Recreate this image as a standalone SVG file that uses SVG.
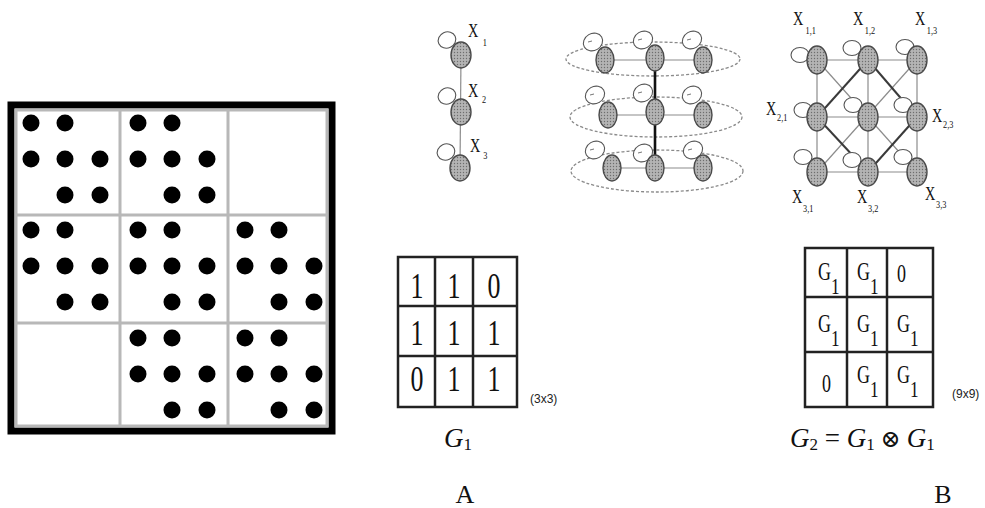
<svg xmlns="http://www.w3.org/2000/svg" xmlns:xlink="http://www.w3.org/1999/xlink" width="985" height="508" viewBox="0 0 985 508">
<style>
.dot{fill:#000}
.gl{stroke:#b8b8b8;stroke-width:3;fill:none}
.node{fill:url(#stip);stroke:#4a4a4a;stroke-width:1.4}
.loop{fill:#fff;stroke:#555;stroke-width:1.1}
.tick{stroke:#666;stroke-width:0.9}
.edge{stroke:#8c8c8c;stroke-width:1.2;fill:none}
.thick{stroke:#3a3a3a;stroke-width:2;fill:none}
.ring{fill:none;stroke:#8a8a8a;stroke-width:1.3;stroke-dasharray:3 2}
.mat{fill:none;stroke:#222;stroke-width:2.5}
.serif{font-family:"Liberation Serif","DejaVu Serif",serif;fill:#111}
.sans{font-family:"Liberation Sans","DejaVu Sans",sans-serif;fill:#222}
</style>
<defs>
<pattern id="stip" width="3" height="3" patternUnits="userSpaceOnUse">
<rect width="3" height="3" fill="#b4b4b4"/>
<circle cx="1.5" cy="1.5" r="0.7" fill="#6e6e6e"/>
</pattern>
<g id="blk">
<circle class="dot" cx="0" cy="0" r="8.5"/>
<circle class="dot" cx="34" cy="0" r="8.5"/>
<circle class="dot" cx="0" cy="36" r="8.5"/>
<circle class="dot" cx="34" cy="36" r="8.5"/>
<circle class="dot" cx="69" cy="36" r="8.5"/>
<circle class="dot" cx="34" cy="72" r="8.5"/>
<circle class="dot" cx="69" cy="72" r="8.5"/>
</g>
</defs>
<rect width="985" height="508" fill="#fff"/>

<!-- Left block matrix -->
<g id="blockmatrix">
<rect x="11" y="105" width="321" height="326" fill="#fff" stroke="#000" stroke-width="7"/>
<rect class="gl" x="16" y="110" width="311" height="316" stroke-width="2"/>
<line class="gl" x1="120" y1="110" x2="120" y2="426"/>
<line class="gl" x1="228" y1="110" x2="228" y2="426" stroke-width="4" stroke="#c8c8c8"/>
<line class="gl" x1="16" y1="215" x2="327" y2="215"/>
<line class="gl" x1="16" y1="323" x2="327" y2="323"/>
<use xlink:href="#blk" href="#blk" x="31" y="123"/>
<use xlink:href="#blk" href="#blk" x="138" y="123"/>
<use xlink:href="#blk" href="#blk" x="31" y="230"/>
<use xlink:href="#blk" href="#blk" x="138" y="230"/>
<use xlink:href="#blk" href="#blk" x="245" y="230"/>
<use xlink:href="#blk" href="#blk" x="138" y="338"/>
<use xlink:href="#blk" href="#blk" x="245" y="338"/>
</g>

<!-- Connectors -->
<g id="connectors">
<!-- chain graph -->
<line class="edge" x1="461" y1="55" x2="460" y2="168" stroke="#666"/>
<!-- layered graph -->
<ellipse class="ring" cx="653" cy="59" rx="87" ry="17"/>
<ellipse class="ring" cx="656" cy="117" rx="86" ry="20"/>
<ellipse class="ring" cx="657" cy="171" rx="86" ry="21"/>
<line class="edge" x1="605" y1="60" x2="703" y2="60"/>
<line class="edge" x1="608" y1="115" x2="703" y2="115"/>
<line class="edge" x1="612" y1="168" x2="703" y2="168"/>
<line x1="655" y1="58" x2="655" y2="168" stroke="#111" stroke-width="2.6"/>
<!-- grid graph -->
<line class="edge" x1="817" y1="60" x2="917" y2="60"/>
<line class="edge" x1="817" y1="117" x2="917" y2="117"/>
<line class="edge" x1="817" y1="172" x2="917" y2="172"/>
<line class="edge" x1="817" y1="60" x2="817" y2="172"/>
<line class="edge" x1="868" y1="60" x2="868" y2="172"/>
<line class="edge" x1="917" y1="60" x2="917" y2="172"/>
<line class="edge" x1="817" y1="60" x2="917" y2="172"/>
<line class="edge" x1="917" y1="60" x2="817" y2="172"/>
<line class="thick" x1="868" y1="60" x2="817" y2="117"/>
<line class="thick" x1="868" y1="60" x2="917" y2="117"/>
<line class="thick" x1="817" y1="117" x2="868" y2="172"/>
<line class="thick" x1="917" y1="117" x2="868" y2="172"/>
</g>

<!-- chain graph nodes -->
<g id="a-x1"><ellipse class="loop" cx="447" cy="40" rx="9" ry="8" transform="rotate(-25 447 40)"/><ellipse class="node" cx="461" cy="55" rx="10" ry="13"/></g>
<g id="a-x2"><ellipse class="loop" cx="447" cy="96" rx="9" ry="8" transform="rotate(-25 447 96)"/><ellipse class="node" cx="461" cy="112" rx="10" ry="13"/></g>
<g id="a-x3"><ellipse class="loop" cx="446" cy="152" rx="9" ry="8" transform="rotate(-25 446 152)"/><ellipse class="node" cx="460" cy="168" rx="10" ry="13"/></g>
<g id="a-labels" class="serif">
<text transform="translate(468,37) scale(0.75,1)" font-size="19">X<tspan font-size="11" dx="6" dy="9">1</tspan></text>
<text transform="translate(468,97) scale(0.75,1)" font-size="19">X<tspan font-size="11" dx="5" dy="6">2</tspan></text>
<text transform="translate(470,152) scale(0.75,1)" font-size="19">X<tspan font-size="11" dx="4" dy="7">3</tspan></text>
</g>

<!-- layered graph nodes -->
<g id="m-11"><ellipse class="loop" cx="593" cy="42" rx="10" ry="8.5" transform="rotate(-30 593 42)"/><line class="tick" x1="588" y1="42" x2="592" y2="41"/><ellipse class="node" cx="605" cy="60" rx="9" ry="13"/></g>
<g id="m-12"><ellipse class="loop" cx="643" cy="40" rx="10" ry="8.5" transform="rotate(-30 643 40)"/><line class="tick" x1="638" y1="40" x2="642" y2="39"/><ellipse class="node" cx="655" cy="58" rx="9" ry="13"/></g>
<g id="m-13"><ellipse class="loop" cx="692" cy="40" rx="10" ry="8.5" transform="rotate(-30 692 40)"/><line class="tick" x1="687" y1="40" x2="691" y2="39"/><ellipse class="node" cx="703" cy="60" rx="9" ry="13"/></g>
<g id="m-21"><ellipse class="loop" cx="595" cy="95" rx="10" ry="8.5" transform="rotate(-30 595 95)"/><line class="tick" x1="590" y1="95" x2="594" y2="94"/><ellipse class="node" cx="608" cy="115" rx="9" ry="13"/></g>
<g id="m-22"><ellipse class="loop" cx="643" cy="93" rx="10" ry="8.5" transform="rotate(-30 643 93)"/><line class="tick" x1="638" y1="93" x2="642" y2="92"/><ellipse class="node" cx="655" cy="112" rx="9" ry="13"/></g>
<g id="m-23"><ellipse class="loop" cx="692" cy="95" rx="10" ry="8.5" transform="rotate(-30 692 95)"/><line class="tick" x1="687" y1="95" x2="691" y2="94"/><ellipse class="node" cx="703" cy="115" rx="9" ry="13"/></g>
<g id="m-31"><ellipse class="loop" cx="595" cy="150" rx="10" ry="8.5" transform="rotate(-30 595 150)"/><line class="tick" x1="590" y1="150" x2="594" y2="149"/><ellipse class="node" cx="612" cy="168" rx="9" ry="13"/></g>
<g id="m-32"><ellipse class="loop" cx="643" cy="153" rx="10" ry="8.5" transform="rotate(-30 643 153)"/><line class="tick" x1="638" y1="153" x2="642" y2="152"/><ellipse class="node" cx="655" cy="168" rx="9" ry="13"/></g>
<g id="m-33"><ellipse class="loop" cx="693" cy="150" rx="10" ry="8.5" transform="rotate(-30 693 150)"/><line class="tick" x1="688" y1="150" x2="692" y2="149"/><ellipse class="node" cx="703" cy="168" rx="9" ry="13"/></g>

<!-- grid graph nodes -->
<g id="g-11"><ellipse class="loop" cx="800" cy="55" rx="9" ry="7.5"/><ellipse class="node" cx="817" cy="60" rx="10" ry="14"/></g>
<g id="g-12"><ellipse class="loop" cx="852" cy="48" rx="9" ry="7.5"/><ellipse class="node" cx="868" cy="60" rx="10" ry="14"/></g>
<g id="g-13"><ellipse class="loop" cx="905" cy="47" rx="9" ry="7.5"/><ellipse class="node" cx="917" cy="60" rx="10" ry="14"/></g>
<g id="g-21"><ellipse class="loop" cx="803" cy="110" rx="9" ry="7.5"/><ellipse class="node" cx="817" cy="117" rx="10" ry="14"/></g>
<g id="g-22"><ellipse class="loop" cx="853" cy="105" rx="9" ry="7.5"/><ellipse class="node" cx="868" cy="117" rx="10" ry="14"/></g>
<g id="g-23"><ellipse class="loop" cx="903" cy="105" rx="9" ry="7.5"/><ellipse class="node" cx="917" cy="117" rx="10" ry="14"/></g>
<g id="g-31"><ellipse class="loop" cx="803" cy="157" rx="9" ry="7.5"/><ellipse class="node" cx="817" cy="172" rx="10" ry="14"/></g>
<g id="g-32"><ellipse class="loop" cx="852" cy="160" rx="9" ry="7.5"/><ellipse class="node" cx="868" cy="172" rx="10" ry="14"/></g>
<g id="g-33"><ellipse class="loop" cx="903" cy="157" rx="9" ry="7.5"/><ellipse class="node" cx="917" cy="172" rx="10" ry="14"/></g>
<g id="g-labels" class="serif" font-size="19">
<text transform="translate(793,25) scale(0.75,1)">X<tspan font-size="11" dx="3" dy="9">1,1</tspan></text>
<text transform="translate(853,25) scale(0.75,1)">X<tspan font-size="11" dx="2" dy="9">1,2</tspan></text>
<text transform="translate(915,25) scale(0.75,1)">X<tspan font-size="11" dx="2" dy="9">1,3</tspan></text>
<text transform="translate(766,115) scale(0.75,1)">X<tspan font-size="11" dx="1" dy="6">2,1</tspan></text>
<text transform="translate(932,122) scale(0.75,1)">X<tspan font-size="11" dx="1" dy="6">2,3</tspan></text>
<text transform="translate(792,203) scale(0.75,1)">X<tspan font-size="11" dx="1" dy="9">3,1</tspan></text>
<text transform="translate(857,203) scale(0.75,1)">X<tspan font-size="11" dx="1" dy="9">3,2</tspan></text>
<text transform="translate(925,200) scale(0.75,1)">X<tspan font-size="11" dx="1" dy="8">3,3</tspan></text>
</g>

<!-- Matrix G1 -->
<g id="matrix-g1">
<rect class="mat" x="398" y="257" width="119" height="150"/>
<line class="mat" x1="435" y1="257" x2="435" y2="407"/>
<line class="mat" x1="473" y1="257" x2="473" y2="407"/>
<line class="mat" x1="398" y1="306" x2="517" y2="306"/>
<line class="mat" x1="398" y1="356" x2="517" y2="356"/>
<g class="serif" font-size="36" text-anchor="middle">
<text transform="translate(417,298) scale(0.72,1)">1</text>
<text transform="translate(454,298) scale(0.72,1)">1</text>
<text transform="translate(494,298) scale(0.72,1)">0</text>
<text transform="translate(417,345) scale(0.72,1)">1</text>
<text transform="translate(454,345) scale(0.72,1)">1</text>
<text transform="translate(494,345) scale(0.72,1)">1</text>
<text transform="translate(417,391) scale(0.72,1)">0</text>
<text transform="translate(454,391) scale(0.72,1)">1</text>
<text transform="translate(494,391) scale(0.72,1)">1</text>
</g>
<text class="sans" x="530" y="403" font-size="12">(3x3)</text>
<text class="serif" x="444" y="447" font-size="27" font-style="italic">G<tspan font-size="17" font-style="normal" dy="3">1</tspan></text>
</g>

<!-- Matrix G2 -->
<g id="matrix-g2">
<rect class="mat" x="805" y="248" width="128" height="159"/>
<line class="mat" x1="847" y1="248" x2="847" y2="407"/>
<line class="mat" x1="887" y1="248" x2="887" y2="407"/>
<line class="mat" x1="805" y1="297" x2="933" y2="297"/>
<line class="mat" x1="805" y1="352" x2="933" y2="352"/>
<g class="serif" font-size="25">
<text transform="translate(818,280) scale(0.72,1)">G<tspan font-size="24" dy="14">1</tspan></text>
<text transform="translate(857,280) scale(0.72,1)">G<tspan font-size="24" dy="14">1</tspan></text>
<text transform="translate(897,282) scale(0.72,1)">0</text>
<text transform="translate(818,332) scale(0.72,1)">G<tspan font-size="24" dy="14">1</tspan></text>
<text transform="translate(857,332) scale(0.72,1)">G<tspan font-size="24" dy="14">1</tspan></text>
<text transform="translate(897,332) scale(0.72,1)">G<tspan font-size="24" dy="14">1</tspan></text>
<text transform="translate(822,392) scale(0.72,1)">0</text>
<text transform="translate(857,383) scale(0.72,1)">G<tspan font-size="24" dy="14">1</tspan></text>
<text transform="translate(897,383) scale(0.72,1)">G<tspan font-size="24" dy="14">1</tspan></text>
</g>
<text class="sans" x="952" y="398" font-size="12">(9x9)</text>
<text class="serif" x="790" y="447" font-size="27"><tspan font-style="italic">G</tspan><tspan font-size="17" dy="3">2</tspan><tspan dy="-3"> = </tspan><tspan font-style="italic">G</tspan><tspan font-size="17" dy="3">1</tspan><tspan dy="-3" font-size="24"> ⊗ </tspan><tspan font-style="italic">G</tspan><tspan font-size="17" dy="3">1</tspan></text>
</g>

<g id="captions" class="serif" font-size="26" text-anchor="middle">
<text x="465" y="503">A</text>
<text x="943" y="503">B</text>
</g>
</svg>
